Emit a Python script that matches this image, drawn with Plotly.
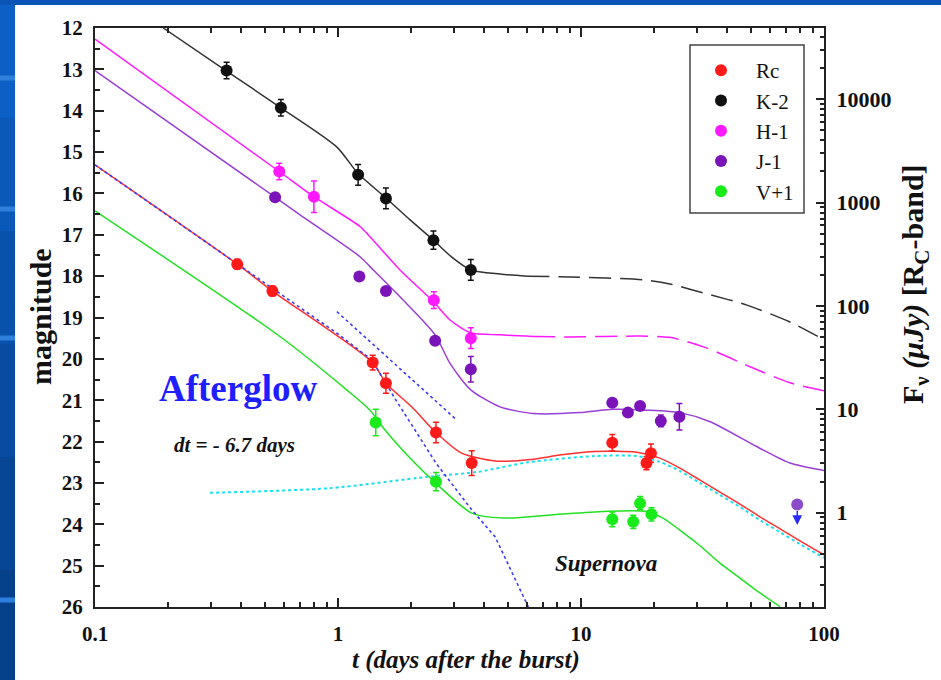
import math
import plotly.graph_objects as go

# ---------------- data ----------------
# Observed photometry: time after burst [days], magnitude, 1-sigma error
RC_T = [0.385, 0.537, 1.389, 1.575, 2.53, 3.55, 13.45, 19.4, 18.6]
RC_MAG = [17.71, 18.36, 20.09, 20.59, 21.78, 22.52, 22.03, 22.28, 22.52]
RC_ERR = [0.12, 0.12, 0.18, 0.24, 0.25, 0.30, 0.20, 0.22, 0.16]

K_T = [0.348, 0.582, 1.21, 1.575, 2.47, 3.52]
K_MAG = [13.03, 13.93, 15.55, 16.12, 17.13, 17.85]
K_ERR = [0.20, 0.20, 0.25, 0.25, 0.22, 0.25]

H_T = [0.573, 0.796, 2.48, 3.52]
H_MAG = [15.47, 16.08, 18.58, 19.50]
H_ERR = [0.20, 0.38, 0.20, 0.25]

J_T = [0.551, 1.224, 1.575, 2.51, 3.52, 13.45, 15.6, 17.5, 21.3, 25.4]
J_MAG = [16.09, 18.01, 18.36, 19.56, 20.25, 21.06, 21.30, 21.14, 21.50, 21.40]
J_ERR = [0.05, 0.05, 0.05, 0.06, 0.31, 0.08, 0.06, 0.07, 0.14, 0.32]

V_T = [1.43, 2.53, 13.45, 16.4, 17.5, 19.5]
V_MAG = [21.54, 22.97, 23.88, 23.94, 23.49, 23.76]
V_ERR = [0.32, 0.22, 0.18, 0.16, 0.16, 0.16]

# J-band upper limit (point and arrow tip)
J_LIMIT_T = [77.6]
J_LIMIT_MAG = [23.52]
J_LIMIT_ARROW_TIP = [24.02]

# Model curves (afterglow + supernova)
K_CURVE_T = [0.191, 0.348, 0.582, 0.99, 1.21, 1.575, 1.98, 2.47, 2.94, 3.52, 4.64, 6.0]
K_CURVE_MAG = [12.0, 13.04, 13.93, 14.88, 15.52, 16.11, 16.64, 17.13, 17.54, 17.85, 17.95, 18.0]
K_CURVE_DASH_T = [6.0, 9.0, 18.0, 23.2, 33.0, 48.2, 72.5, 100]
K_CURVE_DASH_MAG = [18.0, 18.02, 18.09, 18.19, 18.43, 18.70, 19.11, 19.54]

H_CURVE_T = [0.1, 0.573, 0.796, 1.232, 1.354, 1.80, 2.47, 2.89, 3.52, 4.64, 6.35]
H_CURVE_MAG = [12.27, 15.47, 16.08, 16.80, 17.05, 17.85, 18.62, 19.06, 19.37, 19.42, 19.46]
H_CURVE_DASH_T = [6.35, 9.0, 17.5, 23.2, 33.0, 49.6, 72.5, 100]
H_CURVE_DASH_MAG = [19.46, 19.47, 19.45, 19.48, 19.74, 20.19, 20.58, 20.77]

J_CURVE_T = [0.1, 0.551, 0.698, 1.232, 1.354, 1.80, 2.51, 2.89, 3.52, 4.64, 6.35, 9.9,
             13.5, 18.6, 25.5, 34.0, 52.8, 72.5, 100]
J_CURVE_MAG = [13.03, 16.09, 16.52, 17.53, 17.77, 18.50, 19.42, 20.11, 20.75, 21.16, 21.32, 21.30,
               21.22, 21.24, 21.30, 21.52, 22.12, 22.52, 22.70]

RC_CURVE_T = [0.1, 0.385, 0.537, 1.389, 1.575, 2.01, 2.53, 3.23, 4.43, 6.07, 8.33, 11.4,
              16.95, 21.1, 25.5, 30.9, 37.3, 45.1, 54.5, 65.9, 79.6, 100]
RC_CURVE_MAG = [15.31, 17.71, 18.36, 20.09, 20.59, 21.16, 21.78, 22.28, 22.47, 22.44, 22.32, 22.24,
                22.26, 22.40, 22.64, 22.93, 23.22, 23.51, 23.82, 24.11, 24.40, 24.74]

V_CURVE_T = [0.1, 0.577, 1.086, 1.354, 1.561, 2.01, 2.53, 3.55, 4.79, 7.69, 12.4, 18.6,
             21.75, 25.5, 30.9, 37.3, 45.1, 54.5, 65.9]
V_CURVE_MAG = [16.42, 19.46, 20.75, 21.24, 21.72, 22.44, 23.01, 23.73, 23.85, 23.77, 23.69, 23.69,
               23.85, 24.14, 24.52, 24.94, 25.30, 25.66, 25.99]

# Afterglow power laws (blue dotted) and supernova component (cyan dotted)
AG_T = [0.1, 0.99, 1.38, 1.72, 2.53, 3.55, 4.43, 6.07]
AG_MAG = [15.31, 19.38, 20.03, 20.97, 22.52, 23.65, 24.30, 26.0]
AG_EXT_T = [0.99, 3.03]
AG_EXT_MAG = [18.86, 21.44]
SN_T = [0.297, 0.912, 2.35, 3.78, 6.07, 11.4, 16.95, 21.1, 25.5, 30.9, 37.3, 45.1, 54.5,
        65.9, 79.6, 100]
SN_MAG = [23.24, 23.13, 22.85, 22.73, 22.50, 22.35, 22.35, 22.49, 22.71, 23.00, 23.29, 23.58,
          23.90, 24.19, 24.48, 24.81]

MAG_RANGE = [26, 12]
RC_ZERO_MAG = 23.72  # magnitude of 1 microJansky in Rc
FLUX_TICKS = [1, 10, 100, 1000, 10000]
X_TICKS = [0.1, 1, 10, 100]
LEGEND_NAMES = ["Rc", "K-2", "H-1", "J-1", "V+1"]

# ---------------- styling ----------------
W, H = 941, 680
ML, MR, MT, MB = 95, 117, 28, 73
PW, PH = W - ML - MR, H - MT - MB
SERIF = "Liberation Serif"
AXC = "#222222"

def px(x):
    return (x - ML) / PW

def py(y):
    return (H - MB - y) / PH

C_RC, C_K, C_H, C_J, C_V = "#ff1a1a", "#111111", "#ff19ff", "#7a14b8", "#19ea19"
C_JLINE = "#9a3fd6"

fig = go.Figure()

def curve(t, m, color, dash="solid", width=1.5, shape="spline"):
    fig.add_trace(go.Scatter(x=t, y=m, mode="lines", showlegend=False, hoverinfo="skip",
                             line=dict(color=color, width=width, dash=dash, shape=shape,
                                       smoothing=0.7)))

curve(SN_T, SN_MAG, "#19e0f0", dash="dot", width=2)
curve(K_CURVE_T, K_CURVE_MAG, "#333333")
curve(K_CURVE_DASH_T, K_CURVE_DASH_MAG, "#333333", dash="22px,9px")
curve(H_CURVE_T, H_CURVE_MAG, C_H)
curve(H_CURVE_DASH_T, H_CURVE_DASH_MAG, C_H, dash="22px,9px")
curve(J_CURVE_T, J_CURVE_MAG, C_JLINE)
curve(RC_CURVE_T, RC_CURVE_MAG, "#ff3030")
curve(V_CURVE_T, V_CURVE_MAG, "#22e022")
curve(AG_T, AG_MAG, "#3a3aff", dash="dot", width=1.6, shape="linear")
curve(AG_EXT_T, AG_EXT_MAG, "#3a3aff", dash="dot", width=1.6, shape="linear")

series = [(RC_T, RC_MAG, RC_ERR, C_RC), (K_T, K_MAG, K_ERR, C_K), (H_T, H_MAG, H_ERR, C_H),
          (J_T, J_MAG, J_ERR, C_J), (V_T, V_MAG, V_ERR, C_V)]
for name, (t, m, e, c) in zip(LEGEND_NAMES, series):
    fig.add_trace(go.Scatter(
        x=t, y=m, mode="markers", name=name, legendgroup=name,
        marker=dict(color=c, size=12, line=dict(width=0)),
        error_y=dict(type="data", array=e, visible=True, color=c, thickness=1.5, width=3)))

fig.add_trace(go.Scatter(x=J_LIMIT_T, y=J_LIMIT_MAG, mode="markers", showlegend=False,
                         marker=dict(color="#8a4cc8", size=12)))

# flux axis carrier (invisible)
fig.add_trace(go.Scatter(x=J_LIMIT_T, y=[10 ** ((RC_ZERO_MAG - m) / 2.5) for m in J_LIMIT_MAG],
                         yaxis="y2", mode="markers", marker=dict(opacity=0), showlegend=False,
                         hoverinfo="skip"))

def label(x, y, text, size, color="#111", angle=0):
    return dict(x=px(x), y=py(y), xref="paper", yref="paper", text=text, textangle=angle,
                xanchor="center", yanchor="middle", showarrow=False,
                font=dict(family=SERIF, size=size, color=color))

annotations = [
    dict(x=math.log10(J_LIMIT_T[0]), y=J_LIMIT_ARROW_TIP[0], ax=math.log10(J_LIMIT_T[0]),
         ay=J_LIMIT_MAG[0] + 0.12, xref="x", yref="y", axref="x", ayref="y", text="",
         showarrow=True, arrowhead=2, arrowsize=1.3, arrowwidth=1.5, arrowcolor="#2a2aff"),
    label(237.5, 388, "<b>Afterglow</b>", 37, "#1e1eff"),
    label(234, 445, "<b><i>dt = - 6.7 days</i></b>", 21),
    label(606, 563, "<b><i>Supernova</i></b>", 23),
    label(40, 317, "<b>magnitude</b>", 30, angle=-90),
    label(915, 284, "<b>F<sub>ν</sub> <i>(μJy)</i> [R<sub>C</sub>-band]</b>", 30, angle=-90),
    label(466, 660, "<b><i>t (days after the burst)</i></b>", 25),
]

shapes = [
    dict(type="rect", xref="paper", yref="paper", x0=px(15), x1=px(945), y0=py(685), y1=py(5),
         fillcolor="white", line=dict(width=0), layer="below"),
    dict(type="rect", xref="paper", yref="paper", x0=px(690), x1=px(804), y0=py(213), y1=py(45),
         fillcolor="rgba(0,0,0,0)", line=dict(color="#444", width=1.5), layer="above"),
]
# left strip shading
strip_cols = ["#0c5fc4", "#0a58b8", "#0852ac", "#074ca0", "#064694", "#05408a"]
for i, col in enumerate(strip_cols):
    shapes.append(dict(type="rect", xref="paper", yref="paper", x0=px(-2), x1=px(15),
                       y0=py(5 + (i + 1) * 113), y1=py(5 + i * 113), fillcolor=col,
                       line=dict(width=0), layer="below"))
for yy in (78, 209, 338, 600):
    shapes.append(dict(type="rect", xref="paper", yref="paper", x0=px(-2), x1=px(15),
                       y0=py(yy + 2.5), y1=py(yy - 2.5), fillcolor="#2f80dc",
                       line=dict(width=0), layer="below"))

tickfont = dict(family=SERIF, size=21, color="#111", weight="bold")
x_minor = [m * 10 ** e for e in (-1, 0, 1) for m in range(2, 10)]
f_minor = [m * 10 ** e for e in (-1, 0, 1, 2, 3, 4) for m in range(2, 10)]

fig.update_layout(
    width=W, height=H, autosize=False,
    margin=dict(l=ML, r=MR, t=MT, b=MB),
    paper_bgcolor="#0a55b5", plot_bgcolor="white",
    showlegend=True,
    legend=dict(x=px(686), y=py(50), xanchor="left", yanchor="top", bgcolor="rgba(0,0,0,0)",
                borderwidth=0, font=dict(family=SERIF, size=21, color="#111"),
                tracegroupgap=5, traceorder="normal", itemwidth=60),
    xaxis=dict(type="log", range=[-1, 2], tickvals=X_TICKS, ticktext=[str(v) for v in X_TICKS],
               ticks="inside", ticklen=9, tickwidth=2, tickcolor=AXC, showline=True, linewidth=2,
               linecolor=AXC, mirror="ticks", showgrid=False, zeroline=False, tickfont=tickfont,
               ticklabelstandoff=7,
               minor=dict(tickvals=x_minor, ticks="inside", ticklen=5, tickwidth=1.5,
                          tickcolor=AXC, showgrid=False)),
    yaxis=dict(range=MAG_RANGE, dtick=1, tick0=12, ticks="inside", ticklen=9, tickwidth=2,
               tickcolor=AXC, showline=True, linewidth=2, linecolor=AXC, showgrid=False,
               zeroline=False, tickfont=tickfont, ticklabelstandoff=6,
               minor=dict(dtick=0.5, tick0=12, ticks="inside", ticklen=5, tickwidth=1.5,
                          tickcolor=AXC, showgrid=False)),
    yaxis2=dict(overlaying="y", side="right", type="log",
                range=[(RC_ZERO_MAG - MAG_RANGE[0]) / 2.5, (RC_ZERO_MAG - MAG_RANGE[1]) / 2.5],
                tickvals=FLUX_TICKS, ticktext=[str(v) for v in FLUX_TICKS],
                ticks="inside", ticklen=8, tickwidth=2, tickcolor=AXC, showline=True, linewidth=2,
                linecolor=AXC, showgrid=False, zeroline=False,
                tickfont=dict(family=SERIF, size=22, color="#111", weight="bold"),
                ticklabelstandoff=6,
                minor=dict(tickvals=f_minor, ticks="inside", ticklen=4, tickwidth=1.5,
                           tickcolor=AXC, showgrid=False)),
    annotations=annotations,
    shapes=shapes,
)

fig.write_html("out.html", config={"displayModeBar": False},
               post_script="document.body.style.margin='0';")
